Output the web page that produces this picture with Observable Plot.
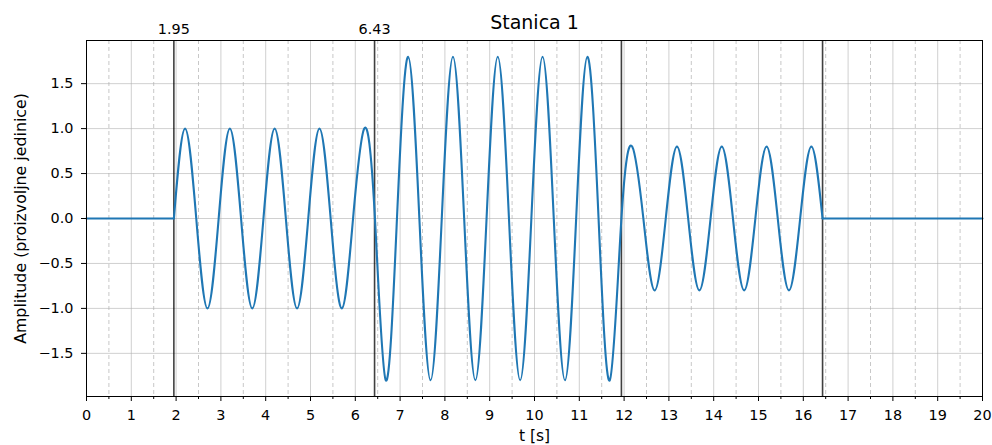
<!DOCTYPE html>
<html>
<head>
<meta charset="utf-8">
<script src="https://cdn.jsdelivr.net/npm/d3@7"></script>
<script src="https://cdn.jsdelivr.net/npm/@observablehq/plot@0.6"></script>
<style>
  html, body { margin: 0; padding: 0; background: white; }
</style>
</head>
<body>
<div id="chart"></div>
<script>
// ---- data ----
const title = "Stanica 1";
const xLabel = "t [s]";
const yLabel = "Amplitude (proizvoljne jedinice)";

const xTicks = [0,1,2,3,4,5,6,7,8,9,10,11,12,13,14,15,16,17,18,19,20];
const xMinor = [0.5,1.5,2.5,3.5,4.5,5.5,6.5,7.5,8.5,9.5,10.5,11.5,12.5,13.5,14.5,15.5,16.5,17.5,18.5,19.5];
const yTicks = [-1.5,-1.0,-0.5,0.0,0.5,1.0,1.5];

// vertical event markers (arrival times)
const eventTimes  = [1.95, 6.43, 11.94, 16.43];
const eventLabels = ["1.95", "6.43", "", ""];

// quiet parts before and after the signal
const quietBeforeT = [0, 1.95];
const quietAfterT  = [16.43, 20];

// signal: zero crossings, peaks and troughs
const signalT = [
  1.95, 2.2, 2.45, 2.7, 2.95, 3.2, 3.45, 3.7, 3.95, 4.2, 4.45, 4.7, 4.95, 5.2, 5.45, 5.7, 5.95, 6.2, 6.43,
  6.68, 6.93, 7.18, 7.43, 7.68, 7.93, 8.18, 8.43, 8.68, 8.93, 9.18, 9.43, 9.68, 9.93, 10.18, 10.43, 10.68, 10.93, 11.18, 11.43, 11.68, 11.94,
  12.18, 12.43, 12.68, 12.93, 13.18, 13.43, 13.68, 13.93, 14.18, 14.43, 14.68, 14.93, 15.18, 15.43, 15.68, 15.93, 16.18, 16.43
];
const signalY = [
  0, 1, 0, -1, 0, 1, 0, -1, 0, 1, 0, -1, 0, 1, 0, -1, 0, 1, 0.08,
  -1.8, 0, 1.8, 0, -1.8, 0, 1.8, 0, -1.8, 0, 1.8, 0, -1.8, 0, 1.8, 0, -1.8, 0, 1.8, 0, -1.8, 0,
  0.8, 0, -0.8, 0, 0.8, 0, -0.8, 0, 0.8, 0, -0.8, 0, 0.8, 0, -0.8, 0, 0.8, 0
];

// ---- tables built from the arrays ----
const rows = [
  ...quietBeforeT.map(t => ({t, y: 0, part: "before"})),
  ...signalT.map((t, i) => ({t, y: signalY[i], part: "signal"})),
  ...quietAfterT.map(t => ({t, y: 0, part: "after"}))
];
const events = eventTimes.map((t, i) => ({t, label: eventLabels[i]}));

const fmtY = d3.format(".1f");

const chart = Plot.plot({
  width: 992,
  height: 445,
  marginLeft: 86,
  marginRight: 10,
  marginTop: 40,
  marginBottom: 49,
  style: {fontFamily: "DejaVu Sans", fontSize: "14.4px", background: "white", color: "black"},
  x: {domain: [0, 20]},
  y: {domain: [-1.98, 1.98]},
  marks: [
    Plot.gridX(xMinor, {stroke: "#b0b0b0", strokeOpacity: 0.7, strokeDasharray: "4,3", strokeWidth: 1}),
    Plot.gridX(xTicks, {stroke: "#b0b0b0", strokeOpacity: 0.6, strokeWidth: 1}),
    Plot.gridY(yTicks, {stroke: "#b0b0b0", strokeOpacity: 0.6, strokeWidth: 1}),
    Plot.ruleX(events, {x: "t", stroke: "black", strokeOpacity: 0.75, strokeWidth: 1.6}),
    Plot.line(rows, {x: "t", y: "y", z: "part", stroke: "#1f77b4", strokeWidth: 2.1, curve: "natural"}),
    Plot.frame({stroke: "black", strokeWidth: 1}),
    Plot.axisX(xTicks, {tickSize: 5, tickPadding: 8, tickFormat: d => String(d), label: null}),
    Plot.axisX(xMinor, {tickSize: 3, tickFormat: () => "", label: null}),
    Plot.axisY(yTicks, {tickSize: 5, tickPadding: 8, tickFormat: d => fmtY(d), label: null}),
    Plot.text(events, {x: "t", text: "label", frameAnchor: "top", dy: -7, lineAnchor: "bottom", fill: "black"}),
    Plot.text([title], {frameAnchor: "top", dy: -18, lineAnchor: "middle", fontSize: 19, fill: "black"}),
    Plot.text([xLabel], {frameAnchor: "bottom", dy: 40, lineAnchor: "middle", fontSize: 15.5, fill: "black"}),
    Plot.text([yLabel], {frameAnchor: "left", dx: -66, rotate: -90, textAnchor: "middle", lineAnchor: "middle", fontSize: 15.8, fill: "black"})
  ]
});
document.getElementById("chart").appendChild(chart);
</script>
</body>
</html>
